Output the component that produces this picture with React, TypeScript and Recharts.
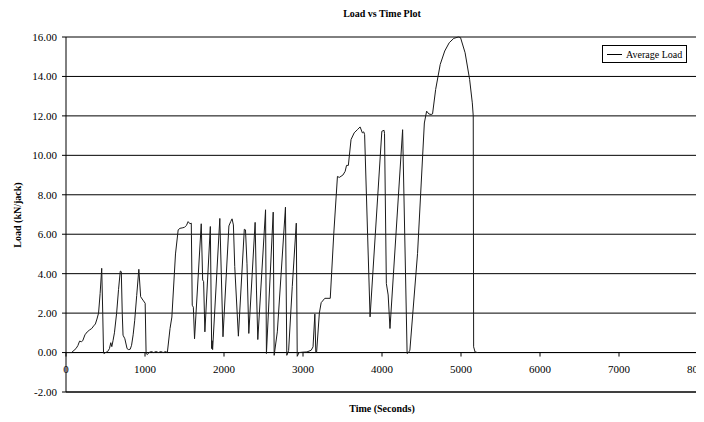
import { LineChart, Line, XAxis, YAxis, CartesianGrid, ReferenceLine } from "recharts";

// time (s) and average load (kN/jack)
const timeSec = [
  0, 70, 126, 150, 172, 195, 212, 240, 269, 300, 326, 350, 372, 392, 412, 432, 452, 465, 475, 480,
  500, 527, 550, 567, 580, 595, 613, 641, 665, 687, 700, 712, 722, 745, 773, 793, 813, 830, 850, 870,
  895, 922, 945, 974, 1002, 1014, 1031, 1050, 1080, 1110, 1140, 1170, 1200, 1230, 1260, 1283, 1317, 1340, 1386, 1420,
  1443, 1470, 1500, 1525, 1546, 1569, 1586, 1598, 1612, 1627, 1712, 1730, 1742, 1758, 1827, 1844, 1850, 1856, 1947, 1987,
  2062, 2085, 2102, 2119, 2136, 2182, 2257, 2272, 2291, 2314, 2394, 2411, 2428, 2526, 2537, 2623, 2635, 2675, 2778, 2795,
  2818, 2864, 2915, 2927, 2950, 3000, 3050, 3104, 3127, 3150, 3162, 3172, 3207, 3230, 3276, 3345, 3390, 3436, 3459, 3505,
  3534, 3551, 3574, 3608, 3648, 3688, 3723, 3751, 3769, 3780, 3849, 3998, 4026, 4032, 4055, 4078, 4101, 4261, 4318, 4335,
  4353, 4450, 4536, 4565, 4593, 4622, 4640, 4679, 4737, 4794, 4851, 4908, 4966, 4994, 5052, 5109, 5143, 5155, 5160, 5178,
  5212,
];
const avgLoad = [
  0, 0, 0.2, 0.35, 0.58, 0.55, 0.6, 0.9, 1.05, 1.15, 1.22, 1.35, 1.45, 1.7, 2.0, 3.0, 4.27, 2.0, 0, -0.05,
  0, 0.05, 0.2, 0.5, 0.3, 0.6, 1.0, 2.0, 3.2, 4.13, 4.1, 2.0, 0.88, 0.7, 0.2, 0.15, 0.17, 0.37, 0.9, 1.64,
  2.9, 4.22, 2.83, 2.66, 2.5, -0.05, -0.1, 0, 0.05, 0, 0.05, 0, 0.05, 0, 0.05, 0, 1.22, 1.8, 5.0, 6.22,
  6.3, 6.32, 6.35, 6.45, 6.64, 6.53, 6.56, 2.4, 2.3, 0.7, 6.53, 3.68, 3.6, 1.05, 6.39, 0.2, 0.6, 0.15, 6.8, 0.8,
  6.42, 6.64, 6.78, 6.47, 4.36, 0.83, 6.25, 6.22, 4.5, 0.97, 6.6, 3.17, 0.66, 7.24, -0.05, 7.12, -0.14, 1.05, 7.37, -0.14,
  0.1, 3.34, 6.56, -0.19, 0, 0.02, 0.03, 0.12, 0.29, 1.95, 0, 0, 2.0, 2.53, 2.75, 2.75, 6.05, 8.93, 8.88, 9.0,
  9.19, 9.49, 9.49, 10.8, 11.14, 11.3, 11.44, 11.14, 11.19, 11.05, 1.81, 11.22, 11.27, 11.1, 3.5, 2.92, 1.22, 11.3, -0.05, 0,
  0.12, 5.03, 11.64, 12.24, 12.1, 12.07, 12.1, 13.34, 14.61, 15.29, 15.71, 15.93, 16.0, 15.97, 15.2, 13.85, 12.66, 12.0, 0.29, 0.03,
  0,
];

const xTicks = [0, 1000, 2000, 3000, 4000, 5000, 6000, 7000, 8000];
const yTicks = [-2, 0, 2, 4, 6, 8, 10, 12, 14, 16];

const data = timeSec.map((t, i) => ({ t, load: avgLoad[i] }));

const W = 696;
const H = 414;
const PLOT_TOP = 29;
const X_AXIS_H = 30;
const PLOT_BOTTOM = H - X_AXIS_H;
const Y_MIN = yTicks[0];
const Y_MAX = yTicks[yTicks.length - 1];
const zeroY = PLOT_BOTTOM - ((PLOT_BOTTOM - PLOT_TOP) * (0 - Y_MIN)) / (Y_MAX - Y_MIN);

const FONT = "'Liberation Serif', 'Times New Roman', serif";

// x labels sit under the zero line, not under the plot bottom
function TimeTick(props: any) {
  const { x, payload } = props;
  return (
    <g>
      <line x1={x} x2={x} y1={zeroY} y2={zeroY + 4} stroke="#000" />
      <text x={x} y={zeroY + 17} dy="0.35em" textAnchor="middle" fontSize={11} fontFamily={FONT} fill="#000">
        {payload.value}
      </text>
    </g>
  );
}

export default function App() {
  return (
    <div style={{ position: "relative", width: W, height: H, fontFamily: FONT, color: "#000" }}>
      <div style={{ position: "absolute", top: 0, left: 58, width: 632, textAlign: "center", fontSize: 10, fontWeight: "bold", lineHeight: "12px" }}>
        Load vs Time Plot
      </div>
      <div
        style={{
          position: "absolute",
          left: 9,
          top: (PLOT_TOP + PLOT_BOTTOM) / 2,
          transform: "translate(-50%, -50%) rotate(-90deg)",
          fontSize: 10,
          fontWeight: "bold",
          whiteSpace: "nowrap",
        }}
      >
        Load (kN/jack)
      </div>
      <div style={{ position: "absolute", top: 395, left: 58, width: 632, textAlign: "center", fontSize: 10, fontWeight: "bold", lineHeight: "12px" }}>
        Time (Seconds)
      </div>
      <LineChart width={W} height={H} data={data} margin={{ top: PLOT_TOP, right: 6, bottom: 0, left: 0 }}>
        <CartesianGrid vertical={false} stroke="#000" strokeWidth={1} />
        <XAxis
          dataKey="t"
          type="number"
          domain={[0, 8000]}
          ticks={xTicks}
          height={X_AXIS_H}
          axisLine={{ stroke: "#000" }}
          tickLine={false}
          tickSize={0}
          tickMargin={0}
          tick={<TimeTick />}
          interval={0}
        />
        <YAxis
          type="number"
          domain={[Y_MIN, Y_MAX]}
          ticks={yTicks}
          width={58}
          tickFormatter={(v: number) => v.toFixed(2)}
          tick={{ fontSize: 11, fontFamily: FONT, fill: "#000" }}
          tickSize={4}
          tickMargin={5}
          axisLine={{ stroke: "#000" }}
          tickLine={{ stroke: "#000" }}
          interval={0}
        />
        <ReferenceLine y={0} stroke="#000" />
        <ReferenceLine x={8000} stroke="#000" />
        <Line
          dataKey="load"
          name="Average Load"
          type="linear"
          stroke="#1a1a1a"
          strokeWidth={1}
          dot={false}
          isAnimationActive={false}
        />
      </LineChart>
      <div
        style={{
          position: "absolute",
          left: 594,
          top: 37,
          height: 16,
          border: "1px solid #000",
          background: "#fff",
          padding: "0 4px",
          fontSize: 10,
          display: "flex",
          alignItems: "center",
          whiteSpace: "nowrap",
        }}
      >
        <span style={{ display: "inline-block", width: 15, borderTop: "1px solid #000", marginRight: 4 }} />
        Average Load
      </div>
    </div>
  );
}
